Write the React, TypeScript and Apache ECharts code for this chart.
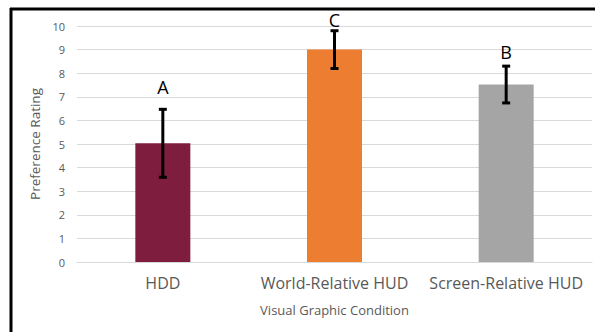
import React, { useEffect, useRef } from "react";
import * as echarts from "echarts";

const categories = ["HDD", "World-Relative HUD", "Screen-Relative HUD"];
const means = [5.03, 9.0, 7.52];
const errors = [1.44, 0.8, 0.78];
const letters = ["A", "C", "B"];
const letterPos = [7.43, 10.27, 8.88];
const barColors = ["#7F1D3F", "#ED7D31", "#A5A5A5"];

export default function App() {
  const ref = useRef<HTMLDivElement>(null);
  useEffect(() => {
    if (!ref.current) return;
    const chart = echarts.init(ref.current, null, { renderer: "svg" });
    const font = "'Open Sans', 'Liberation Sans', sans-serif";
    chart.setOption({
      animation: false,
      backgroundColor: "#ffffff",
      grid: { left: 77, right: 3, top: 26, bottom: 70 },
      xAxis: {
        type: "category",
        data: categories,
        name: "Visual Graphic Condition",
        nameLocation: "middle",
        nameGap: 41,
        nameTextStyle: { color: "#595959", fontSize: 13, fontFamily: font },
        axisLine: { show: true, lineStyle: { color: "#D9D9D9", width: 1 } },
        axisTick: { show: false },
        axisLabel: {
          color: "#595959",
          fontSize: 16,
          fontFamily: font,
          margin: 13,
          interval: 0,
          hideOverlap: false,
        },
      },
      yAxis: {
        type: "value",
        min: 0,
        max: 10,
        interval: 1,
        name: "Preference Rating",
        nameLocation: "middle",
        nameGap: 30,
        nameTextStyle: { color: "#595959", fontSize: 13.5, fontFamily: font },
        axisLine: { show: false },
        axisTick: { show: false },
        axisLabel: { color: "#595959", fontSize: 11, fontFamily: font, margin: 12 },
        splitLine: { lineStyle: { color: "#D9D9D9", width: 1 } },
      },
      series: [
        {
          type: "bar",
          barWidth: 55,
          data: means.map((v, i) => ({ value: v, itemStyle: { color: barColors[i] } })),
        },
        {
          type: "custom",
          data: means.map((m, i) => [i, m - errors[i], m + errors[i], letterPos[i]]),
          renderItem: (params: any, api: any) => {
            const x = api.value(0);
            const lo = api.coord([x, api.value(1)]);
            const hi = api.coord([x, api.value(2)]);
            const lp = api.coord([x, api.value(3)]);
            const cap = 4;
            const style = { stroke: "#000000", lineWidth: 3 };
            return {
              type: "group",
              children: [
                { type: "line", shape: { x1: hi[0], y1: hi[1], x2: lo[0], y2: lo[1] }, style },
                { type: "line", shape: { x1: hi[0] - cap, y1: hi[1], x2: hi[0] + cap, y2: hi[1] }, style },
                { type: "line", shape: { x1: lo[0] - cap, y1: lo[1], x2: lo[0] + cap, y2: lo[1] }, style },
                {
                  type: "text",
                  x: lp[0],
                  y: lp[1],
                  style: {
                    text: letters[params.dataIndex],
                    fill: "#000000",
                    fontSize: 18,
                    fontFamily: font,
                    align: "center",
                    verticalAlign: "middle",
                  },
                },
              ],
            };
          },
          z: 10,
        },
      ],
      graphic: [
        { type: "line", shape: { x1: 10, y1: 9, x2: 595, y2: 9 }, style: { stroke: "#000000", lineWidth: 3 } },
        { type: "line", shape: { x1: 11, y1: 8, x2: 11, y2: 332 }, style: { stroke: "#000000", lineWidth: 3 } },
      ],
    });
    return () => chart.dispose();
  }, []);
  return <div ref={ref} style={{ width: 595, height: 332, position: "absolute", left: 0, top: 0 }} />;
}
